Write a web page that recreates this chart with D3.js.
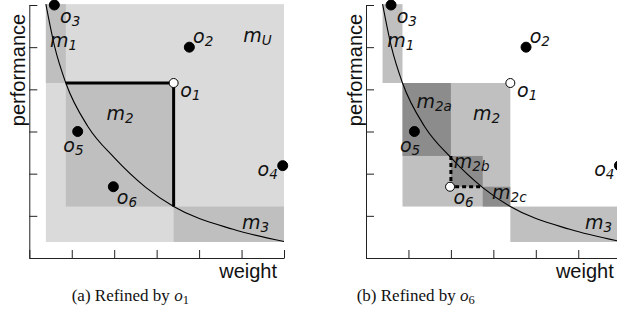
<!DOCTYPE html>
<html>
<head>
<meta charset="utf-8">
<script src="https://cdn.jsdelivr.net/npm/d3@7"></script>
<style>
  body { margin: 0; background: #fff; }
  .axis path, .axis line { stroke: #222; stroke-width: 1; }
  .lbl { font-family: "DejaVu Sans", sans-serif; font-style: italic; font-size: 19px; fill: #111; }
  .ax-title { font-family: "Liberation Sans", Arial, sans-serif; font-size: 20px; fill: #111; }
  .caption { font-family: "Liberation Serif", "Times New Roman", serif; font-size: 17px; fill: #111; }
</style>
</head>
<body>
<div id="chart"></div>
<script>
// points o1..o6 (weight, performance), axis units 0..6
var pointNames = ["1", "2", "3", "4", "5", "6"];
var pointX = [3.4, 3.77, 0.59, 5.97, 1.14, 1.98];
var pointY = [4.15, 5.0, 6.0, 2.19, 3.0, 1.69];

// curve
var curveX = [0.39, 0.6, 0.86, 1.38, 2.0, 2.75, 3.4, 4.8, 6.0];
var curveY = [6.02, 5.0, 4.15, 3.12, 2.38, 1.67, 1.22, 0.68, 0.39];

// regions: [x0, x1, y0, y1]
var leftRegions = [
  {name: "U", box: [0.39, 6.0, 0.38, 6.02], fill: "#dadada"},
  {name: "1", box: [0.39, 0.86, 4.15, 6.02], fill: "#bfbfbf"},
  {name: "2", box: [0.86, 3.4, 1.22, 4.15], fill: "#bfbfbf"},
  {name: "3", box: [3.4, 6.0, 0.38, 1.22], fill: "#bfbfbf"}
];
var rightRegions = [
  {name: "1", box: [0.39, 0.86, 4.15, 6.02], fill: "#c0c0c0"},
  {name: "2", box: [0.86, 3.4, 1.22, 4.15], fill: "#c0c0c0"},
  {name: "2a", box: [0.86, 2.0, 2.42, 4.15], fill: "#8c8c8c"},
  {name: "2b", box: [2.0, 2.75, 1.69, 2.42], fill: "#8c8c8c"},
  {name: "2c", box: [2.75, 3.4, 1.22, 1.69], fill: "#8c8c8c"},
  {name: "3", box: [3.4, 6.0, 0.38, 1.22], fill: "#c0c0c0"}
];
// refinement edges
var leftEdges = [[0.86, 4.15], [3.4, 4.15], [3.4, 1.22]];
var rightEdges = [[2.0, 2.42], [2.0, 1.69], [2.75, 1.69]];

// region label anchors (axis units)
var leftRegionLabels = [["U", 5.04, 5.13], ["1", 0.49, 5.01], ["2", 1.82, 3.27], ["3", 5.01, 0.68]];
var rightRegionLabels = [["1", 0.5, 5.0], ["2a", 1.19, 3.55], ["2", 2.52, 3.27], ["2b", 2.07, 2.13], ["2c", 2.97, 1.39], ["3", 5.16, 0.68]];

var tickValues = [0, 1, 2, 3, 4, 5, 6];
var captions = [["(a) Refined by ", "1"], ["(b) Refined by ", "6"]];

var W = 617, H = 330;
var svg = d3.select("#chart").append("svg").attr("width", W).attr("height", H);

var x = d3.scaleLinear().domain([0, 6]).range([29.3, 284]);
var y = d3.scaleLinear().domain([0, 6]).range([258, 5]);

// label offsets from each point, px [dx, dy, anchor]
var labelOff = {"1": [6.7, 14, "start"], "2": [3.7, -4, "start"], "3": [5.7, 18.4, "start"],
  "4": [-5, 10, "end"], "5": [-14.4, 20, "start"], "6": [3.4, 17.3, "start"]};

function addLabel(g, base, sub, px, py, anchor) {
  var t = g.append("text").attr("class", "lbl").attr("x", px).attr("y", py)
    .attr("text-anchor", anchor || "start");
  t.append("tspan").text(base);
  t.append("tspan").attr("dy", 3).style("font-size", "13.5px").text(sub);
}

var lineLin = d3.line().x(function(d) { return x(d[0]); }).y(function(d) { return y(d[1]); });
var lineCurve = d3.line().x(function(d) { return x(d[0]); }).y(function(d) { return y(d[1]); })
  .curve(d3.curveMonotoneX);

function drawPanel(offset, regions, regionLabels, hollow, edges, dashed, cap) {
  var g = svg.append("g").attr("transform", "translate(" + offset + ",0)");

  g.selectAll("rect.reg").data(regions).enter().append("rect")
    .attr("class", "reg")
    .attr("x", function(d) { return x(d.box[0]); })
    .attr("y", function(d) { return y(d.box[3]); })
    .attr("width", function(d) { return x(d.box[1]) - x(d.box[0]); })
    .attr("height", function(d) { return y(d.box[2]) - y(d.box[3]); })
    .attr("fill", function(d) { return d.fill; });

  g.append("path").datum(d3.zip(curveX, curveY))
    .attr("d", lineCurve).attr("fill", "none").attr("stroke", "#000").attr("stroke-width", 1.1);

  g.append("path").datum(edges)
    .attr("d", lineLin)
    .attr("fill", "none").attr("stroke", "#000").attr("stroke-width", 3)
    .attr("stroke-dasharray", dashed ? "4,3" : null);

  g.append("g").attr("class", "axis")
    .attr("transform", "translate(0," + y(0) + ")")
    .call(d3.axisBottom(x).tickValues(tickValues).tickSize(-8).tickSizeOuter(0).tickFormat(""));
  g.append("g").attr("class", "axis")
    .attr("transform", "translate(" + x(0) + ",0)")
    .call(d3.axisLeft(y).tickValues(tickValues).tickSize(-8).tickSizeOuter(0).tickFormat(""));

  regionLabels.forEach(function(r) { addLabel(g, "m", r[0], x(r[1]), y(r[2])); });

  pointNames.forEach(function(n, i) {
    var open = n === hollow || (hollow === "6" && n === "1");
    g.append("circle").attr("cx", x(pointX[i])).attr("cy", y(pointY[i]))
      .attr("r", open ? 4.5 : 5)
      .attr("fill", open ? "#fff" : "#000")
      .attr("stroke", "#000").attr("stroke-width", 1);
    var o = labelOff[n];
    addLabel(g, "o", n, x(pointX[i]) + o[0], y(pointY[i]) + o[1], o[2]);
  });

  g.append("text").attr("class", "ax-title").attr("x", x(6) - 7).attr("y", 278)
    .attr("text-anchor", "end").text("weight");
  g.append("text").attr("class", "ax-title").attr("text-anchor", "middle")
    .attr("transform", "translate(" + (x(0) - 4) + ",70) rotate(-90)").text("performance");

  var c = g.append("text").attr("class", "caption").attr("x", cap[0]).attr("y", 301);
  c.append("tspan").text(cap[1][0]);
  c.append("tspan").style("font-style", "italic").text("o");
  c.append("tspan").attr("dy", 3).style("font-size", "12.5px").text(cap[1][1]);
}

drawPanel(0, leftRegions, leftRegionLabels, "1", leftEdges, false, [71.7, captions[0]]);
drawPanel(336.7, rightRegions, rightRegionLabels, "6", rightEdges, true, [356.7 - 336.7, captions[1]]);
</script>
</body>
</html>
